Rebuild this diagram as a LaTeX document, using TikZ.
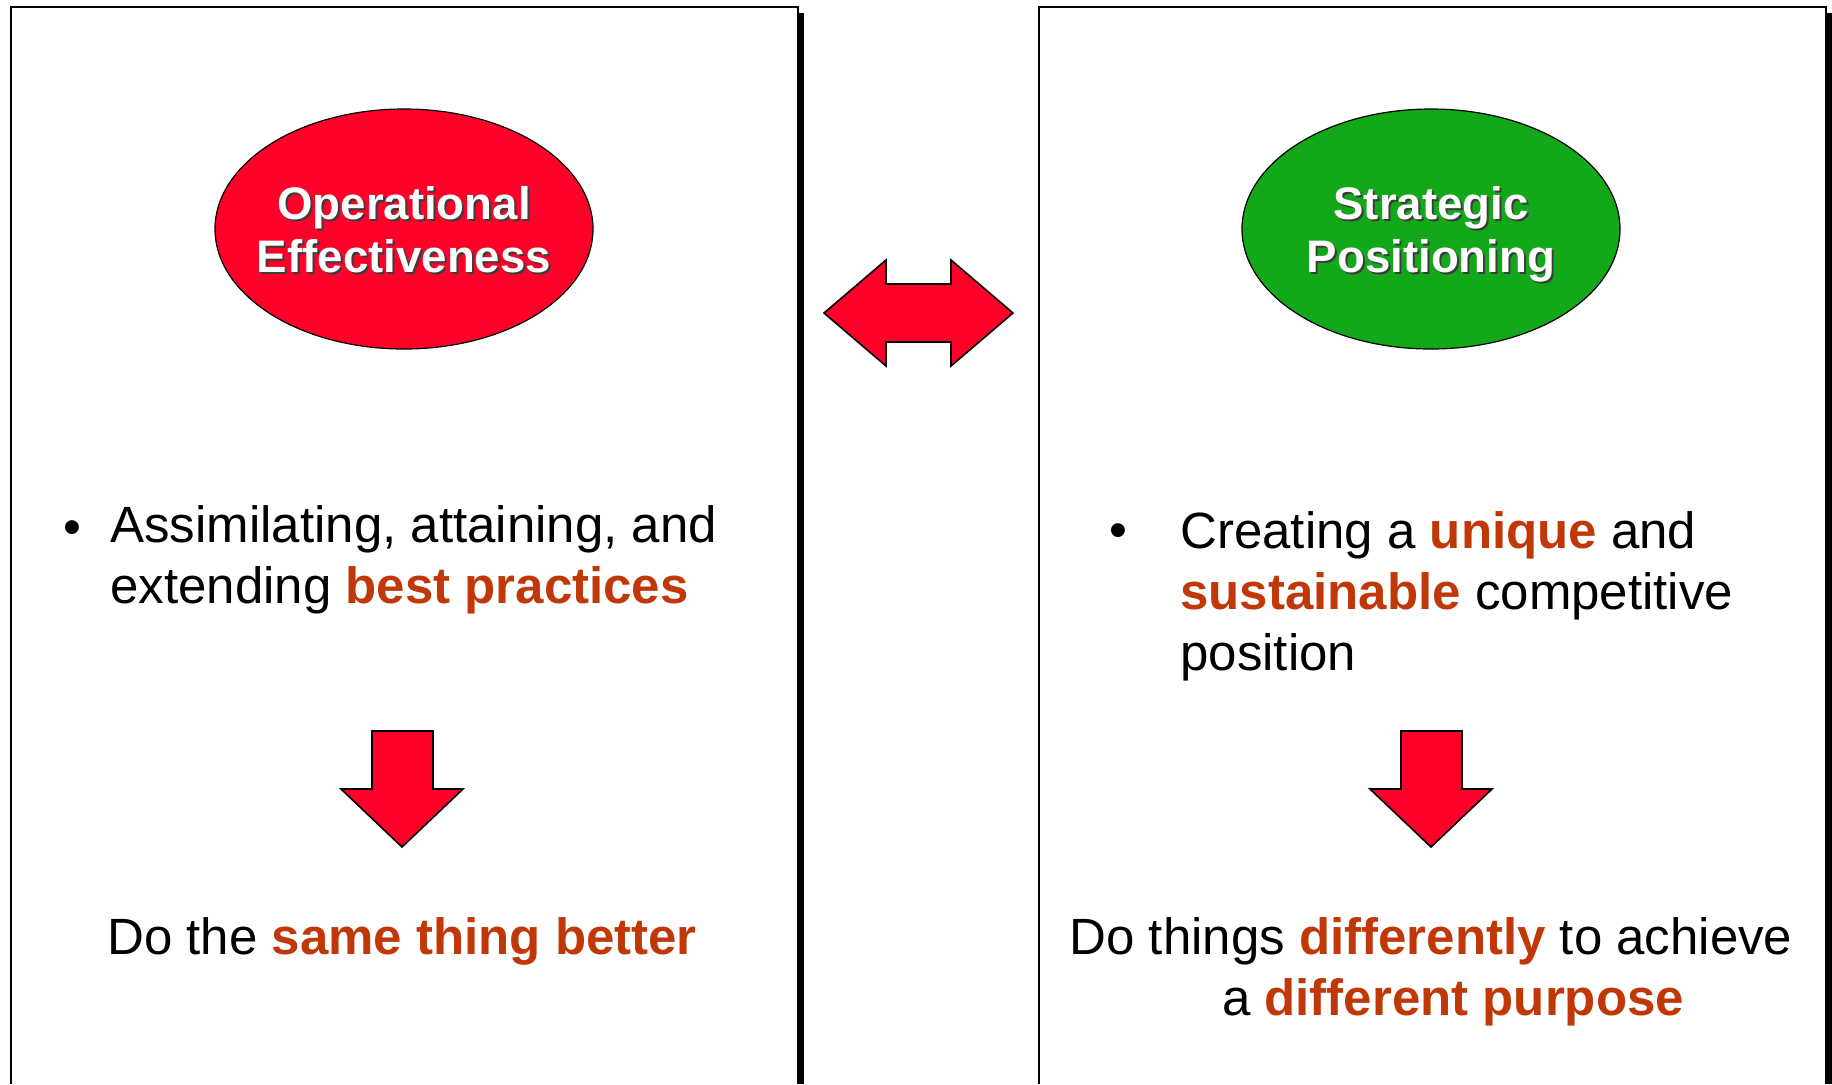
\documentclass[tikz,border=0pt]{standalone}
\usepackage{fontspec}
\setmainfont{Liberation Sans}
\usepackage{xcolor}
\usepackage{tikz}
\usetikzlibrary{shapes.geometric}

\definecolor{ovalred}{RGB}{255,0,40}
\definecolor{ovalgreen}{RGB}{18,168,26}
\definecolor{keyred}{RGB}{192,56,8}
\definecolor{shadowgray}{RGB}{60,60,60}
\newcommand{\keyw}[1]{\textbf{\textcolor{keyred}{#1}}}

\begin{document}
\begin{tikzpicture}[x=0.5pt, y=-0.5pt,
        panel/.style = {draw, line width=1pt},
        oval/.style = {draw, ellipse, line width=0.6pt, minimum width=189pt, minimum height=120pt, inner sep=0pt},
        ovaltext/.style = {align=center, inner sep=0pt, anchor=base, text=white, font=\fontsize{22.8}{26.5}\selectfont\bfseries},
        ovalshadow/.style = {ovaltext, text=shadowgray},
        body/.style = {align=left, inner sep=0pt, font=\fontsize{25.5}{30.5}\selectfont},
        blockarrow/.style = {draw, fill=ovalred, line width=0.8pt, line join=miter}]
        \useasboundingbox (0,0) rectangle (1832,1084);

        % the two panels, open at the bottom, with a shadow on the right
        \fill (798,13) rectangle (804,1084);
        \draw[panel] (11,1084) -- (11,7) -- (798,7) -- (798,1084);
        \fill (1826,13) rectangle (1832,1084);
        \draw[panel] (1039,1084) -- (1039,7) -- (1826,7) -- (1826,1084);

        % ovals
        \node[oval, fill=ovalred] (opeff) at (404, 229) {};
        \node[ovalshadow] (opeffs) at (406, 274) {Operational\\Effectiveness};
        \node[ovaltext] (opefft) at (404, 272) {Operational\\Effectiveness};
        \node[oval, fill=ovalgreen] (strpos) at (1431, 229) {};
        \node[ovalshadow] (strposs) at (1433, 274) {Strategic\\Positioning};
        \node[ovaltext] (strpost) at (1431, 272) {Strategic\\Positioning};

        % double arrow between the panels
        \draw[blockarrow] (824,313) -- (886,260) -- (886,284) -- (951,284) -- (951,260) -- (1013,313)
            -- (951,366) -- (951,342) -- (886,342) -- (886,366) -- cycle;

        % bullets
        \node[body, anchor=base] (lbullet) at (72, 544) {•};
        \node[body, anchor=base west] (lpoint) at (110, 603) {Assimilating, attaining, and\\extending \keyw{best practices}};
        \node[body, anchor=base] (rbullet) at (1118, 547) {•};
        \node[body, anchor=base west] (rpoint) at (1180, 670) {Creating a \keyw{unique} and\\\keyw{sustainable} competitive\\position};

        % down arrows
        \draw[blockarrow] (372,731) -- (433,731) -- (433,789) -- (463,789) -- (402,847) -- (341,789) -- (372,789) -- cycle;
        \draw[blockarrow] (1401,731) -- (1462,731) -- (1462,789) -- (1492,789) -- (1431,847) -- (1370,789) -- (1401,789) -- cycle;

        % results
        \node[body, anchor=base] (lresult) at (402, 954) {Do the \keyw{same thing better}};
        \node[body, anchor=base] (rresult1) at (1431, 954) {Do things \keyw{differently} to achieve};
        \node[body, anchor=base] (rresult2) at (1453, 1015) {a \keyw{different purpose}};
    \end{tikzpicture}
\end{document}
